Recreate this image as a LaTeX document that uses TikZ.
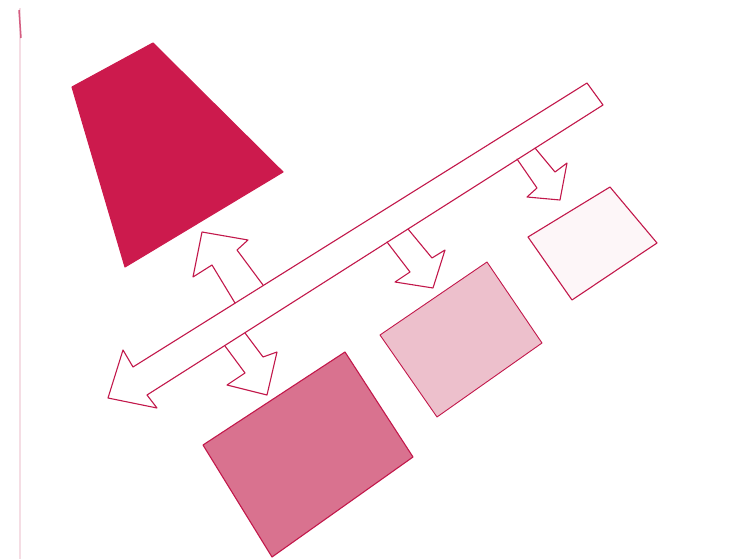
\documentclass[tikz,border=0pt]{standalone}
\definecolor{ink}{HTML}{C2184B}
\definecolor{darkfill}{HTML}{CC1A4D}
\definecolor{midfill}{HTML}{D9728F}
\definecolor{lightfill}{HTML}{EDC0CC}
\definecolor{palefill}{HTML}{FDF6F8}
\definecolor{edgefaint}{HTML}{F5DDE4}
\tikzset{
  sketch/.style={draw=ink, line width=1.1pt, line join=round, line cap=round},
  solidshape/.style={sketch, fill=#1},
}
\begin{document}
\begin{tikzpicture}[x=1pt,y=-1pt]
\useasboundingbox (0,0) rectangle (756,559);
% paper edge
\draw[edgefaint, line width=2pt] (20,8) -- (20,559);
\draw[ink!70, line width=1.5pt] (19,10) -- (21,38);

% shapes
\coordinate (t1) at (72,87); \coordinate (t2) at (153,43);
\coordinate (t3) at (283,172); \coordinate (t4) at (125,267);
\draw[solidshape=darkfill, draw=darkfill] (t1) -- (t2) -- (t3) -- (t4) -- cycle;

\coordinate (b1) at (203,445); \coordinate (b2) at (345,352);
\coordinate (b3) at (413,457); \coordinate (b4) at (272,557);
\draw[solidshape=midfill] (b1) -- (b2) -- (b3) -- (b4) -- cycle;

\coordinate (m1) at (380,335); \coordinate (m2) at (487,262);
\coordinate (m3) at (542,343); \coordinate (m4) at (437,417);
\draw[solidshape=lightfill, line width=0.9pt] (m1) -- (m2) -- (m3) -- (m4) -- cycle;

\coordinate (r1) at (528,237); \coordinate (r2) at (610,187);
\coordinate (r3) at (657,243); \coordinate (r4) at (572,300);
\draw[solidshape=palefill] (r1) -- (r2) -- (r3) -- (r4) -- cycle;

% bus
\coordinate (u1) at (133,367); \coordinate (u2) at (587,83);
\coordinate (l2) at (603,105); \coordinate (l1) at (147,395);
\coordinate (hb) at (157,408); \coordinate (ht) at (108,398); \coordinate (ha) at (123,350);
\draw[solidshape=white] (u1) -- (u2) -- (l2) -- (l1) -- (hb) -- (ht) -- (ha) -- cycle;

% arrow up to trapezoid
\draw[sketch] (235,303) -- (212,265) -- (193,277) -- (202,232) -- (248,240) -- (237,250) -- (263,285);
% arrow down to bottom box
\draw[sketch] (225,346) -- (245,373) -- (227,385) -- (267,395) -- (277,352) -- (263,357) -- (245,333);
% arrow down to middle box
\draw[sketch] (387,242) -- (410,272) -- (395,282) -- (433,288) -- (445,250) -- (432,258) -- (408,229);
% arrow down to outline box
\draw[sketch] (517,159) -- (537,188) -- (527,197) -- (560,200) -- (567,163) -- (555,172) -- (535,148);
\end{tikzpicture}
\end{document}
